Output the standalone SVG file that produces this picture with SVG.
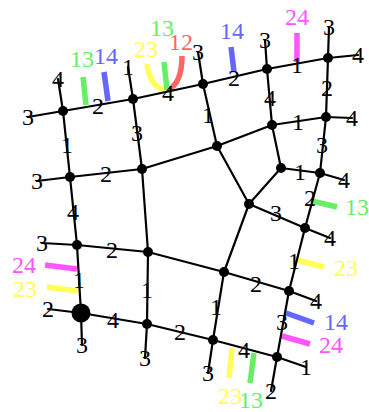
<svg xmlns="http://www.w3.org/2000/svg" width="369" height="412" viewBox="0 0 369 412">
<style>
.e{stroke:#000;stroke-width:2.2;fill:none;stroke-linecap:round}
.n{fill:#000}
text{font-family:"Liberation Serif","DejaVu Serif",serif;font-size:24px;text-anchor:middle;dominant-baseline:central}
.k{fill:#000}
.g{fill:#66ee66}.b{fill:#6666ff}.y{fill:#ffff55}.r{fill:#ff6666}.p{fill:#ff55ff}
.bar{fill:none;stroke-width:5.5}
.gs{stroke:#66ee66}.bs{stroke:#6666ff}.ys{stroke:#ffff55}.rs{stroke:#ff6666}.ps{stroke:#ff55ff}
</style>
<rect width="369" height="412" fill="#fff"/>
<g id="colored-lines">
<line class="bar gs" x1="83" y1="77" x2="86" y2="105"/>
<line class="bar bs" x1="104" y1="72" x2="108" y2="101"/>
<path class="bar ys" d="M147,64 C149,80 156,88 165,90"/>
<path class="bar rs" d="M182,56 C182,76 176,86 168,90"/>
<line class="bar gs" x1="164" y1="62" x2="167" y2="90"/>
<line class="bar bs" x1="231" y1="47" x2="234" y2="72"/>
<line class="bar ps" x1="297" y1="33" x2="297" y2="62"/>
<line class="bar gs" x1="312" y1="201" x2="337" y2="207"/>
<line class="bar ys" x1="297" y1="260" x2="324" y2="267"/>
<line class="bar bs" x1="286" y1="313" x2="314" y2="323"/>
<line class="bar ps" x1="282" y1="336" x2="310" y2="344"/>
<line class="bar ys" x1="232" y1="348" x2="229" y2="378"/>
<line class="bar gs" x1="254" y1="353" x2="250" y2="383"/>
<line class="bar ps" x1="45" y1="265" x2="77" y2="269"/>
<line class="bar ys" x1="47" y1="287" x2="78" y2="291"/>
<text class="g" x="82" y="59">13</text>
<text class="b" x="106" y="56">14</text>
<text class="y" x="146" y="49">23</text>
<text class="g" x="162" y="28">13</text>
<text class="r" x="181" y="42">12</text>
<text class="b" x="232" y="31">14</text>
<text class="p" x="297" y="17">24</text>
<text class="g" x="357" y="207">13</text>
<text class="y" x="346" y="268">23</text>
<text class="b" x="336" y="322">14</text>
<text class="p" x="331" y="345">24</text>
<text class="y" x="230" y="396">23</text>
<text class="g" x="251" y="400">13</text>
<text class="p" x="24" y="265">24</text>
<text class="y" x="25" y="289">23</text>
</g>
<g id="connectors">
<line class="e" x1="63" y1="111" x2="133" y2="99"/>
<line class="e" x1="133" y1="99" x2="203" y2="84"/>
<line class="e" x1="203" y1="84" x2="267" y2="69"/>
<line class="e" x1="267" y1="69" x2="328" y2="58"/>
<line class="e" x1="63" y1="111" x2="70" y2="177"/>
<line class="e" x1="133" y1="99" x2="142" y2="169"/>
<line class="e" x1="203" y1="84" x2="217" y2="146"/>
<line class="e" x1="267" y1="69" x2="272" y2="125"/>
<line class="e" x1="328" y1="58" x2="326" y2="117"/>
<line class="e" x1="272" y1="125" x2="326" y2="117"/>
<line class="e" x1="326" y1="117" x2="320" y2="173"/>
<line class="e" x1="272" y1="125" x2="281" y2="168"/>
<line class="e" x1="281" y1="168" x2="320" y2="173"/>
<line class="e" x1="142" y1="169" x2="217" y2="146"/>
<line class="e" x1="217" y1="146" x2="272" y2="125"/>
<line class="e" x1="217" y1="146" x2="249" y2="204"/>
<line class="e" x1="281" y1="168" x2="249" y2="204"/>
<line class="e" x1="249" y1="204" x2="305" y2="228"/>
<line class="e" x1="320" y1="173" x2="305" y2="228"/>
<line class="e" x1="305" y1="228" x2="289" y2="291"/>
<line class="e" x1="249" y1="204" x2="224" y2="272"/>
<line class="e" x1="70" y1="177" x2="142" y2="169"/>
<line class="e" x1="70" y1="177" x2="77" y2="245"/>
<line class="e" x1="142" y1="169" x2="148" y2="252"/>
<line class="e" x1="77" y1="245" x2="148" y2="252"/>
<line class="e" x1="148" y1="252" x2="224" y2="272"/>
<line class="e" x1="224" y1="272" x2="289" y2="291"/>
<line class="e" x1="77" y1="245" x2="81" y2="313"/>
<line class="e" x1="148" y1="252" x2="147" y2="324"/>
<line class="e" x1="224" y1="272" x2="213" y2="340"/>
<line class="e" x1="289" y1="291" x2="277" y2="357"/>
<line class="e" x1="81" y1="313" x2="147" y2="324"/>
<line class="e" x1="147" y1="324" x2="213" y2="340"/>
<line class="e" x1="213" y1="340" x2="277" y2="357"/>
<line class="e" x1="63" y1="111" x2="28" y2="117"/>
<line class="e" x1="63" y1="111" x2="58" y2="79"/>
<line class="e" x1="133" y1="99" x2="128" y2="67"/>
<line class="e" x1="203" y1="84" x2="198" y2="52"/>
<line class="e" x1="267" y1="69" x2="265" y2="40"/>
<line class="e" x1="328" y1="58" x2="329" y2="27"/>
<line class="e" x1="328" y1="58" x2="358" y2="55"/>
<line class="e" x1="326" y1="117" x2="352" y2="118"/>
<line class="e" x1="320" y1="173" x2="344" y2="180"/>
<line class="e" x1="70" y1="177" x2="37" y2="181"/>
<line class="e" x1="305" y1="228" x2="330" y2="238"/>
<line class="e" x1="77" y1="245" x2="42" y2="243"/>
<line class="e" x1="289" y1="291" x2="316" y2="301"/>
<line class="e" x1="277" y1="357" x2="306" y2="367"/>
<line class="e" x1="277" y1="357" x2="271" y2="391"/>
<line class="e" x1="213" y1="340" x2="208" y2="373"/>
<line class="e" x1="147" y1="324" x2="145" y2="358"/>
<line class="e" x1="81" y1="313" x2="48" y2="309"/>
<line class="e" x1="81" y1="313" x2="82" y2="345"/>
</g>
<g id="labels">
<text class="k" x="28" y="117">3</text>
<text class="k" x="58" y="79">4</text>
<text class="k" x="128" y="67">1</text>
<text class="k" x="198" y="52">3</text>
<text class="k" x="265" y="40">3</text>
<text class="k" x="329" y="27">3</text>
<text class="k" x="358" y="55">4</text>
<text class="k" x="352" y="118">4</text>
<text class="k" x="344" y="180">4</text>
<text class="k" x="37" y="181">3</text>
<text class="k" x="330" y="238">4</text>
<text class="k" x="42" y="243">3</text>
<text class="k" x="316" y="301">4</text>
<text class="k" x="306" y="367">1</text>
<text class="k" x="271" y="391">2</text>
<text class="k" x="208" y="373">3</text>
<text class="k" x="145" y="358">3</text>
<text class="k" x="48" y="309">2</text>
<text class="k" x="82" y="345">3</text>
<text class="k" x="98" y="106">2</text>
<text class="k" x="168" y="93">4</text>
<text class="k" x="234" y="78">2</text>
<text class="k" x="297" y="65">1</text>
<text class="k" x="67" y="145">1</text>
<text class="k" x="137" y="133">3</text>
<text class="k" x="208" y="115">1</text>
<text class="k" x="270" y="98">4</text>
<text class="k" x="327" y="88">2</text>
<text class="k" x="298" y="122">1</text>
<text class="k" x="322" y="145">3</text>
<text class="k" x="300" y="172">1</text>
<text class="k" x="106" y="174">2</text>
<text class="k" x="73" y="212">4</text>
<text class="k" x="112" y="250">2</text>
<text class="k" x="276" y="213">3</text>
<text class="k" x="310" y="198">2</text>
<text class="k" x="294" y="261">1</text>
<text class="k" x="256" y="284">2</text>
<text class="k" x="282" y="322">3</text>
<text class="k" x="244" y="350">4</text>
<text class="k" x="216" y="307">1</text>
<text class="k" x="180" y="332">2</text>
<text class="k" x="113" y="320">4</text>
<text class="k" x="79" y="280">1</text>
<text class="k" x="147" y="290">1</text>
</g>
<g id="node-A"><circle class="n" cx="63" cy="111" r="5"/></g>
<g id="node-B"><circle class="n" cx="133" cy="99" r="5"/></g>
<g id="node-C"><circle class="n" cx="203" cy="84" r="5"/></g>
<g id="node-D"><circle class="n" cx="267" cy="69" r="5"/></g>
<g id="node-E"><circle class="n" cx="328" cy="58" r="5"/></g>
<g id="node-F"><circle class="n" cx="272" cy="125" r="5"/></g>
<g id="node-G"><circle class="n" cx="326" cy="117" r="5"/></g>
<g id="node-H"><circle class="n" cx="217" cy="146" r="5"/></g>
<g id="node-I"><circle class="n" cx="142" cy="169" r="5"/></g>
<g id="node-J"><circle class="n" cx="70" cy="177" r="5"/></g>
<g id="node-K"><circle class="n" cx="281" cy="168" r="5"/></g>
<g id="node-L"><circle class="n" cx="320" cy="173" r="5"/></g>
<g id="node-M"><circle class="n" cx="249" cy="204" r="5"/></g>
<g id="node-N"><circle class="n" cx="305" cy="228" r="5"/></g>
<g id="node-O"><circle class="n" cx="77" cy="245" r="5"/></g>
<g id="node-P"><circle class="n" cx="148" cy="252" r="5"/></g>
<g id="node-Q"><circle class="n" cx="224" cy="272" r="5"/></g>
<g id="node-R"><circle class="n" cx="289" cy="291" r="5"/></g>
<g id="node-S"><circle class="n" cx="81" cy="313" r="9.5"/></g>
<g id="node-T"><circle class="n" cx="147" cy="324" r="5"/></g>
<g id="node-U"><circle class="n" cx="213" cy="340" r="5"/></g>
<g id="node-V"><circle class="n" cx="277" cy="357" r="5"/></g>
</svg>
